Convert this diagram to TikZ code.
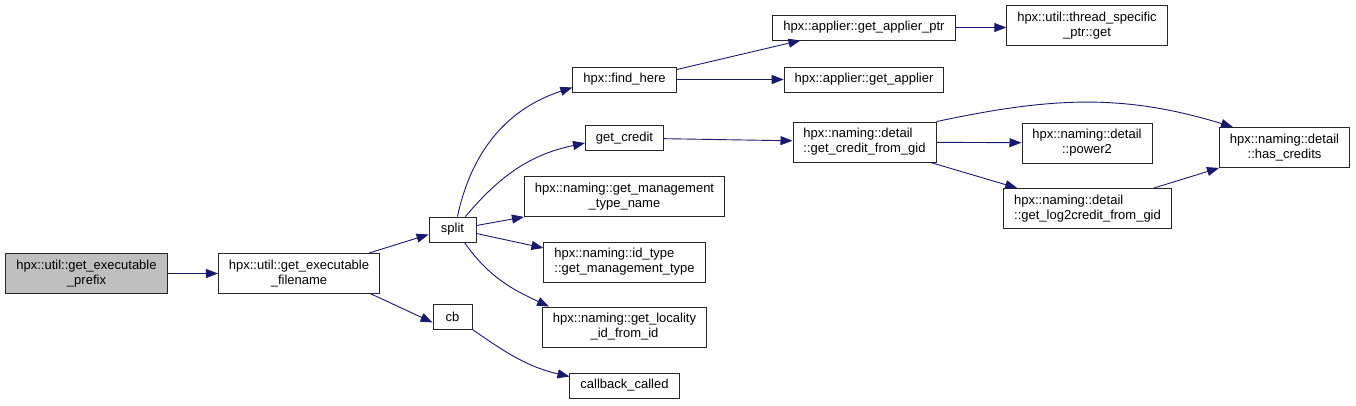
\documentclass[tikz,border=0pt]{standalone}
\usepackage{fontspec}
\setmainfont{Liberation Sans}
\usetikzlibrary{arrows.meta}
\definecolor{edgeblue}{HTML}{191970}
\definecolor{rootgray}{HTML}{BFBFBF}
\begin{document}
\begin{tikzpicture}[
    x=1pt, y=-1pt,
    fn/.style={
      rectangle, draw=black!85, line width=0.9pt, fill=white,
      minimum height=25pt, inner xsep=10.5pt, inner ysep=2pt,
      align=center, font=\fontsize{13}{15}\selectfont
    },
    fntwo/.style={fn, minimum height=40pt},
    rootfn/.style={fntwo, fill=rootgray},
    call/.style={-{Triangle[length=12pt,width=9pt]}, edgeblue, line width=0.9pt}
  ]
    \useasboundingbox (0,0) rectangle (1356,405);

    \node[rootfn] (prefix)   at (86.5,273.5) {hpx::util::get\_executable\\\_prefix};
    \node[fntwo]  (filename) at (299,273.5)  {hpx::util::get\_executable\\\_filename};

    \node[fn, minimum width=47pt] (split) at (452.5,229.5) {split};
    \node[fn, minimum width=39pt] (cb)    at (452.5,316.5) {cb};

    \node[fn]    (findhere) at (624.5,79.5)  {hpx::find\_here};
    \node[fn]    (getcred)  at (624.5,138)   {get\_credit};
    \node[fntwo] (mgmtname) at (624.5,196.5) {hpx::naming::get\_management\\\_type\_name};
    \node[fntwo, align=left] (idtype) at (624.5,262) {hpx::naming::id\_type\\::get\_management\_type};
    \node[fntwo] (locality) at (624.5,327)   {hpx::naming::get\_locality\\\_id\_from\_id};
    \node[fn]    (cbcalled) at (624.5,385.5) {callback\_called};

    \node[fn]    (applptr)  at (864,27.5)    {hpx::applier::get\_applier\_ptr};
    \node[fn]    (applier)  at (864,79.5)    {hpx::applier::get\_applier};
    \node[fntwo, align=left] (credgid) at (864.5,142) {hpx::naming::detail\\::get\_credit\_from\_gid};

    \node[fntwo] (tsget)    at (1087,25.5)   {hpx::util::thread\_specific\\\_ptr::get};
    \node[fntwo] (power)    at (1087,143)    {hpx::naming::detail\\::power2};
    \node[fntwo, align=left] (logcred) at (1087.5,208.5) {hpx::naming::detail\\::get\_log2credit\_from\_gid};

    \node[fntwo] (hascred)  at (1284.5,147.5) {hpx::naming::detail\\::has\_credits};

    \draw[call] ([xshift=-11pt]filename.north east) -- ([yshift=-5pt]split.west);
    \draw[call] (prefix) -- (filename);
    \draw[call] ([xshift=-9pt]filename.south east) -- ([yshift=-6pt]cb.west);

    \draw[call] ([xshift=-19pt]split.north east) to[out=78,in=198] ([yshift=-8pt]findhere.west);
    \draw[call] ([xshift=-11pt]split.north east) to[out=50,in=192] ([yshift=-5pt]getcred.west);
    \draw[call] ([yshift=4pt]split.east) -- (mgmtname.south west);
    \draw[call] ([yshift=-4pt]split.east) -- ([yshift=14pt]idtype.west);
    \draw[call] ([xshift=-12pt]split.south east) to[out=-55,in=155] ([xshift=7pt]locality.north west);
    \draw[call] (cb.south east) to[out=-35,in=167] ([yshift=-4pt]cbcalled.north west);

    \draw[call] ([yshift=-3pt]findhere.north east) -- ([xshift=28pt]applptr.south west);
    \draw[call] (findhere) -- (applier);
    \draw[call] (getcred) -- (credgid);

    \draw[call] (applptr) -- (tsget.west |- applptr);
    \draw[call] (credgid) -- (power);
    \draw[call] ([xshift=-6pt]credgid.south east) -- ([xshift=14pt]logcred.north west);
    \draw[call] (credgid.north east) to[out=12,in=163] ([xshift=14pt]hascred.north west);
    \draw[call] ([xshift=-18pt]logcred.north east) -- (hascred.south west);
  \end{tikzpicture}
\end{document}
